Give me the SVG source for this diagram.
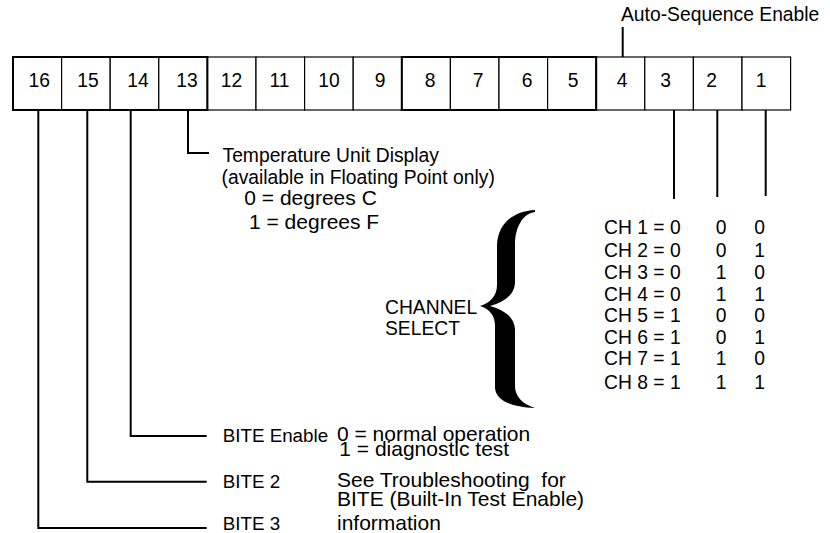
<svg xmlns="http://www.w3.org/2000/svg" width="830" height="533" viewBox="0 0 830 533">
<style>
text{font-family:"Liberation Sans",Arial,Helvetica,sans-serif;fill:#000;font-size:19.3px}
.c{text-anchor:middle}
.big{font-size:21px}
.lab{font-size:18.8px}
.cell{fill:#fff;stroke:#000;stroke-width:1.2}
.nib{fill:none;stroke:#000;stroke-width:2}
.ln{fill:none;stroke:#000;stroke-width:2}
</style>
<rect width="830" height="533" fill="#fff"/>
<g id="register">
<g id="bit16"><rect class="cell" x="13" y="57" width="48.6" height="53"/><text class="c" x="39.3" y="86.5">16</text></g>
<g id="bit15"><rect class="cell" x="61.6" y="57" width="48.6" height="53"/><text class="c" x="88" y="86.5">15</text></g>
<g id="bit14"><rect class="cell" x="110.2" y="57" width="48.6" height="53"/><text class="c" x="138" y="86.5">14</text></g>
<g id="bit13"><rect class="cell" x="158.8" y="57" width="48.6" height="53"/><text class="c" x="187" y="86.5">13</text></g>
<g id="bit12"><rect class="cell" x="207.4" y="57" width="48.6" height="53"/><text class="c" x="231.5" y="86.5">12</text></g>
<g id="bit11"><rect class="cell" x="256" y="57" width="48.6" height="53"/><text class="c" x="279.5" y="86.5">11</text></g>
<g id="bit10"><rect class="cell" x="304.6" y="57" width="48.6" height="53"/><text class="c" x="329" y="86.5">10</text></g>
<g id="bit9"><rect class="cell" x="353.2" y="57" width="48.6" height="53"/><text class="c" x="380" y="86.5">9</text></g>
<g id="bit8"><rect class="cell" x="401.8" y="57" width="48.6" height="53"/><text class="c" x="430" y="86.5">8</text></g>
<g id="bit7"><rect class="cell" x="450.4" y="57" width="48.6" height="53"/><text class="c" x="478" y="86.5">7</text></g>
<g id="bit6"><rect class="cell" x="499" y="57" width="48.6" height="53"/><text class="c" x="527" y="86.5">6</text></g>
<g id="bit5"><rect class="cell" x="547.6" y="57" width="48.6" height="53"/><text class="c" x="573" y="86.5">5</text></g>
<g id="bit4"><rect class="cell" x="596.2" y="57" width="48.6" height="53"/><text class="c" x="622" y="86.5">4</text></g>
<g id="bit3"><rect class="cell" x="644.8" y="57" width="48.6" height="53"/><text class="c" x="665.5" y="86.5">3</text></g>
<g id="bit2"><rect class="cell" x="693.4" y="57" width="48.6" height="53"/><text class="c" x="711.5" y="86.5">2</text></g>
<g id="bit1"><rect class="cell" x="742" y="57" width="48.6" height="53"/><text class="c" x="761" y="86.5">1</text></g>
<rect class="nib" x="13" y="57" width="194.4" height="53"/>
<rect class="nib" x="401.8" y="57" width="194.4" height="53"/>
</g>
<g id="connectors">
<path class="ln" d="M622.7 27V57"/>
<path class="ln" d="M188 110V153H209"/>
<path class="ln" d="M674 110V199"/>
<path class="ln" d="M717.3 110V197"/>
<path class="ln" d="M765.7 110V196"/>
<path class="ln" d="M130.7 110V436H206.7"/>
<path class="ln" d="M87.3 110V481.7H206.7"/>
<path class="ln" d="M38.3 110V528H206.7"/>
</g>
<g id="auto-seq"><text x="621" y="20.5">Auto-Sequence Enable</text></g>
<g id="temp-unit">
<text x="222.5" y="162">Temperature Unit Display</text>
<text x="221.5" y="184">(available in Floating Point only)</text>
<text class="big" x="244.3" y="205">0 = degrees C</text>
<text class="big" x="249" y="229">1 = degrees F</text>
</g>
<g id="channel-select">
<text x="385" y="314">CHANNEL</text>
<text x="385" y="335">SELECT</text>
<path fill="#000" d="M535 210C515 211 498 222 497 245L497 285C497 296 490 303 480 306C490 309 495 316 495 326L495 388C496 400 510 407 535 408C522 404 515 396 515 386L515 330C515 318 505 310 490 306C505 302 515 294 515 282L515 245C515 228 522 214 535 212Z"/>
</g>
<g id="channel-table">
<text x="604" y="233.5">CH 1 = 0</text><text class="c" x="721" y="233.5">0</text><text class="c" x="759.5" y="233.5">0</text>
<text x="604" y="257">CH 2 = 0</text><text class="c" x="721" y="257">0</text><text class="c" x="759.5" y="257">1</text>
<text x="604" y="279">CH 3 = 0</text><text class="c" x="721" y="279">1</text><text class="c" x="759.5" y="279">0</text>
<text x="604" y="300.5">CH 4 = 0</text><text class="c" x="721" y="300.5">1</text><text class="c" x="759.5" y="300.5">1</text>
<text x="604" y="322">CH 5 = 1</text><text class="c" x="721" y="322">0</text><text class="c" x="759.5" y="322">0</text>
<text x="604" y="343.5">CH 6 = 1</text><text class="c" x="721" y="343.5">0</text><text class="c" x="759.5" y="343.5">1</text>
<text x="604" y="365">CH 7 = 1</text><text class="c" x="721" y="365">1</text><text class="c" x="759.5" y="365">0</text>
<text x="604" y="388.5">CH 8 = 1</text><text class="c" x="721" y="388.5">1</text><text class="c" x="759.5" y="388.5">1</text>
</g>
<g id="bite-enable">
<text class="lab" x="222.7" y="442">BITE Enable</text>
<text class="big" x="337" y="441">0 = normal operation</text>
<text class="big" x="339.3" y="456">1 = diagnostic test</text>
</g>
<g id="bite2">
<text class="lab" x="222.7" y="488">BITE 2</text>
<text class="big" x="337" y="487" xml:space="preserve">See Troubleshooting  for</text>
<text class="big" x="337" y="505.5">BITE (Built-In Test Enable)</text>
</g>
<g id="bite3">
<text class="lab" x="222.7" y="530">BITE 3</text>
<text class="big" x="337" y="530">information</text>
</g>
</svg>
